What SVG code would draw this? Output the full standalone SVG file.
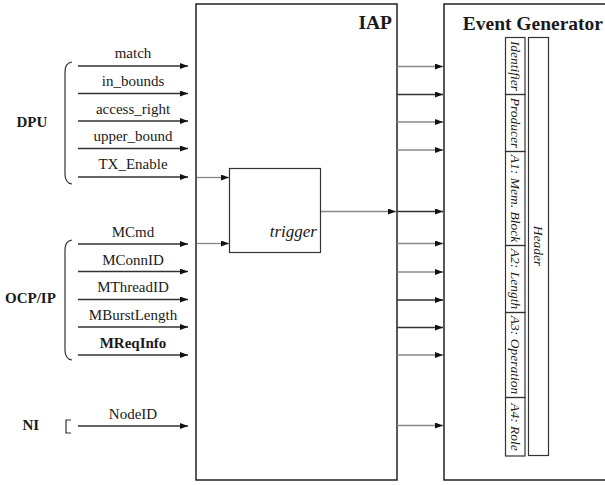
<svg xmlns="http://www.w3.org/2000/svg" width="605" height="485" viewBox="0 0 605 485" font-family="'Liberation Serif', 'Times New Roman', Times, 'DejaVu Serif', serif">
<style>
text{font-family:'Liberation Serif','Times New Roman',Times,'DejaVu Serif',serif;fill:#1a1a1a}
.lbl{font-size:15px;text-anchor:middle}
.grp{font-size:15px;font-weight:bold}
.ttl{font-size:19.5px;font-weight:bold}
.fld{font-size:13.5px;font-style:italic;text-anchor:middle}
.box{fill:none;stroke:#222;stroke-width:1.5}
.cell{fill:none;stroke:#333;stroke-width:1.2}
.wire{stroke:#333;stroke-width:1.3;fill:none}
.gw{stroke:#888;stroke-width:1.3;fill:none}
.brace{fill:none;stroke:#333;stroke-width:1.2}
</style>
<defs>
<marker id="ah" markerUnits="userSpaceOnUse" markerWidth="8" markerHeight="6" refX="8" refY="3" orient="auto">
<polygon points="0,0 8,3 0,6" fill="#111"/>
</marker>
</defs>

<g id="IAP">
<rect class="box" x="196" y="4" width="201" height="476"/>
<text class="ttl" x="392" y="29" text-anchor="end">IAP</text>
</g>

<g id="trigger">
<rect class="cell" x="229.5" y="168.5" width="91" height="84"/>
<text x="317" y="237" font-size="17" font-style="italic" text-anchor="end">trigger</text>
</g>

<g id="EventGenerator">
<rect class="box" x="444" y="4" width="165" height="476"/>
<text class="ttl" x="603" y="30" text-anchor="end">Event Generator</text>
</g>

<g id="fields">
<rect class="cell" x="505.5" y="37.5" width="19.5" height="57"/>
<rect class="cell" x="505.5" y="94.5" width="19.5" height="57"/>
<rect class="cell" x="505.5" y="151.5" width="19.5" height="94"/>
<rect class="cell" x="505.5" y="245.5" width="19.5" height="67"/>
<rect class="cell" x="505.5" y="312.5" width="19.5" height="85"/>
<rect class="cell" x="505.5" y="397.5" width="19.5" height="58.5"/>
<text class="fld" transform="translate(510.5,66) rotate(90)">Identifier</text>
<text class="fld" transform="translate(510.5,123) rotate(90)">Producer</text>
<text class="fld" transform="translate(510.5,198.5) rotate(90)">A1: Mem. Block</text>
<text class="fld" transform="translate(510.5,279) rotate(90)">A2: Length</text>
<text class="fld" transform="translate(510.5,355) rotate(90)">A3: Operation</text>
<text class="fld" transform="translate(510.5,427) rotate(90)">A4: Role</text>
</g>

<g id="Header">
<rect class="cell" x="528.5" y="37.5" width="20" height="418"/>
<text class="fld" transform="translate(534,246) rotate(90)">Header</text>
</g>

<g id="DPU">
<text class="grp" x="16.5" y="127">DPU</text>
<path class="brace" d="M72,62 Q65,63 65,72 L65,174 Q65,183 72,184"/>
</g>
<g id="OCPIP">
<text class="grp" x="5" y="303">OCP/IP</text>
<path class="brace" d="M72,240 Q65,241 65,250 L65,350 Q65,359 72,360"/>
</g>
<g id="NI">
<text class="grp" x="22.5" y="430">NI</text>
<path class="brace" d="M71,420 L66,420 L66,433 L71,433"/>
</g>

<g id="connectors">
<line class="wire" x1="78" y1="66" x2="188" y2="66" marker-end="url(#ah)"/>
<line class="wire" x1="78" y1="93.5" x2="188" y2="93.5" marker-end="url(#ah)"/>
<line class="wire" x1="78" y1="121" x2="188" y2="121" marker-end="url(#ah)"/>
<line class="wire" x1="78" y1="148.5" x2="188" y2="148.5" marker-end="url(#ah)"/>
<line class="wire" x1="78" y1="177" x2="188" y2="177" marker-end="url(#ah)"/>
<line class="wire" x1="78" y1="244" x2="188" y2="244" marker-end="url(#ah)"/>
<line class="wire" x1="78" y1="271.5" x2="188" y2="271.5" marker-end="url(#ah)"/>
<line class="wire" x1="78" y1="299.5" x2="188" y2="299.5" marker-end="url(#ah)"/>
<line class="wire" x1="78" y1="327" x2="188" y2="327" marker-end="url(#ah)"/>
<line class="wire" x1="78" y1="355" x2="188" y2="355" marker-end="url(#ah)"/>
<line class="wire" x1="78" y1="426" x2="188" y2="426" marker-end="url(#ah)"/>
<line class="gw" x1="197" y1="177.5" x2="229" y2="177.5" marker-end="url(#ah)"/>
<line class="gw" x1="197" y1="243.5" x2="229" y2="243.5" marker-end="url(#ah)"/>
<line class="gw" x1="321" y1="211.5" x2="396" y2="211.5" marker-end="url(#ah)"/>
<line class="gw" x1="397" y1="66.5" x2="443" y2="66.5" marker-end="url(#ah)"/>
<line class="wire" x1="397" y1="94.5" x2="443" y2="94.5" marker-end="url(#ah)"/>
<line class="gw" x1="397" y1="122" x2="443" y2="122" marker-end="url(#ah)"/>
<line class="gw" x1="397" y1="150" x2="443" y2="150" marker-end="url(#ah)"/>
<line class="wire" x1="397" y1="211.5" x2="443" y2="211.5" marker-end="url(#ah)"/>
<line class="gw" x1="397" y1="243.5" x2="443" y2="243.5" marker-end="url(#ah)"/>
<line class="gw" x1="397" y1="272" x2="443" y2="272" marker-end="url(#ah)"/>
<line class="wire" x1="397" y1="300" x2="443" y2="300" marker-end="url(#ah)"/>
<line class="wire" x1="397" y1="327.5" x2="443" y2="327.5" marker-end="url(#ah)"/>
<line class="gw" x1="397" y1="355" x2="443" y2="355" marker-end="url(#ah)"/>
<line class="gw" x1="397" y1="425.5" x2="443" y2="425.5" marker-end="url(#ah)"/>
</g>

<g id="labels">
<text class="lbl" x="133" y="58">match</text>
<text class="lbl" x="133" y="85.5">in_bounds</text>
<text class="lbl" x="133" y="113.5">access_right</text>
<text class="lbl" x="133" y="141">upper_bound</text>
<text class="lbl" x="133" y="169">TX_Enable</text>
<text class="lbl" x="133" y="237">MCmd</text>
<text class="lbl" x="133" y="264.5">MConnID</text>
<text class="lbl" x="133" y="292">MThreadID</text>
<text class="lbl" x="133" y="320">MBurstLength</text>
<text class="lbl" x="133" y="348" font-weight="bold">MReqInfo</text>
<text class="lbl" x="133" y="418.5">NodeID</text>
</g>
</svg>
